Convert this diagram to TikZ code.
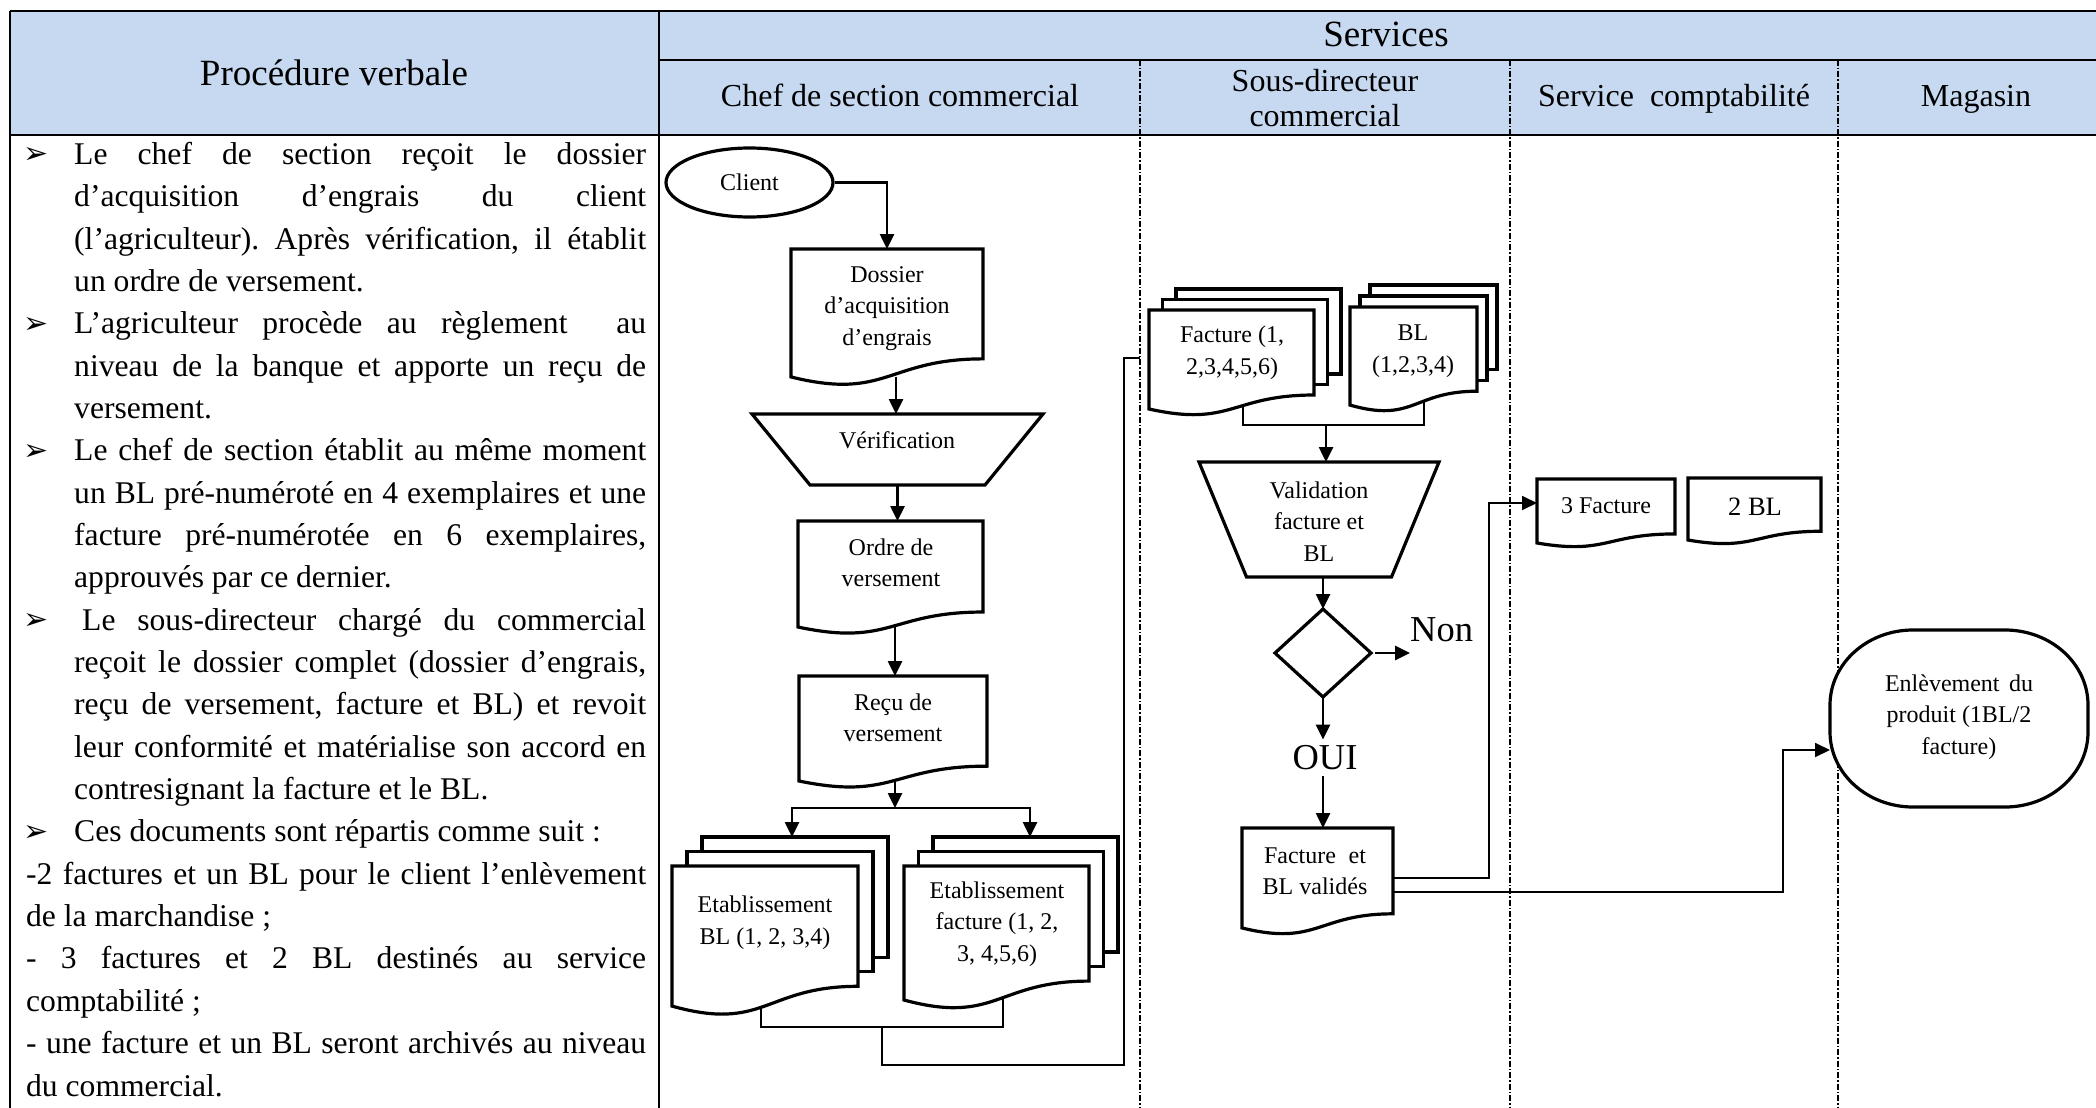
\documentclass[tikz,border=0pt]{standalone}
\usepackage{fontspec}
\setmainfont{Liberation Serif}
\newfontfamily\arrowfont{DejaVu Sans}
\usetikzlibrary{calc,shapes.geometric,arrows.meta}
\definecolor{headblue}{RGB}{198,217,241}
\frenchspacing

\tikzset{
  frame/.style={line width=2.2pt},
  lane/.style={line width=1.1pt, dash pattern=on 6pt off 2pt on 1.5pt off 2pt},
  shapeline/.style={line width=3.2pt, fill=white, line join=miter},
  box/.style={rectangle, draw=none, inner sep=0pt, outer sep=0pt},
  link/.style={line width=2.6pt, -{Triangle[length=15pt,width=14pt]}},
  route/.style={line width=1.6pt},
  routearrow/.style={line width=1.8pt, -{Triangle[length=15pt,width=14pt]}},
  flowtext/.style={font=\fontsize{24}{31.5}\selectfont, align=center, inner sep=0pt},
  headtext/.style={font=\fontsize{32}{35}\selectfont, align=center, inner sep=0pt},
  titletext/.style={font=\fontsize{37}{40}\selectfont, inner sep=0pt},
  bigtext/.style={font=\fontsize{36.5}{40}\selectfont, inner sep=0pt},
  bodytext/.style={font=\fontsize{31.6}{42.35}\selectfont, inner sep=0pt, anchor=base west},
  bulletmark/.style={font=\arrowfont\fontsize{30}{30}\selectfont, inner sep=0pt},
}

% document symbol: rectangle with a wavy lower edge
\newcommand{\docoutline}[1]{%
  \draw[shapeline] (#1.north west) -- (#1.north east)
    -- ($(#1.north east)!0.802!(#1.south east)$)
    .. controls ($(#1.north)!0.802!(#1.south)$) and ($(#1.north)!1.1075!(#1.south)$)
    .. ($(#1.north west)!0.934!(#1.south west)$) -- cycle;}
% sheets stacked behind a document symbol
\newcommand{\stackback}[3]{%
  \foreach \k in {2,1}{%
    \draw[shapeline] ($(#1.north west)+({\k*#2},{-\k*#3})$) rectangle
      ($(#1.north east)!0.802!(#1.south east)+({\k*#2},{-\k*#3})$);}}
% manual operation symbol (inverted trapezium)
\newcommand{\trapoutline}[2]{%
  \draw[shapeline] (#1.north west) -- (#1.north east)
    -- ($(#1.south east)+(-#2,0)$) -- ($(#1.south west)+(#2,0)$) -- cycle;}
% one line of the written procedure
\newcommand{\justline}[5]{\node[bodytext] (#1) at (#2,{164.3+42.35*(#3-1)}) {\hbox to #4pt{#5}};}
\newcommand{\plainline}[4]{\node[bodytext] (#1) at (#2,{164.3+42.35*(#3-1)}) {#4};}

\begin{document}
\begin{tikzpicture}[x=1pt,y=-1pt]
\useasboundingbox (0,0) rectangle (2096,1108);
\fill[white] (0,0) rectangle (2096,1108);
\clip (0,0) rectangle (2096,1108);

% ---------- table ----------
\fill[headblue] (10,11) rectangle (2096,135);
\draw[lane] (1140,60) -- (1140,1108);
\draw[lane] (1510,60) -- (1510,1108);
\draw[lane] (1838,60) -- (1838,1108);
\draw[frame] (10,11) -- (2096,11);
\draw[frame] (659,60) -- (2096,60);
\draw[frame] (10,135) -- (2096,135);
\draw[frame] (10,11) -- (10,1108);
\draw[frame] (659,11) -- (659,1108);

\node[titletext] (hproc) at (334,73) {Procédure verbale};
\node[titletext] (hserv) at (1386,34) {Services};
\node[headtext, anchor=base] (hchef) at (900,106.7) {Chef de section commercial};
\node[headtext] (hsous) at (1325,98) {Sous-directeur\\commercial};
\node[headtext, anchor=base] (hcompta) at (1674,106.7) {Service~~comptabilité};
\node[headtext, anchor=base] (hmag) at (1976,106.7) {Magasin};

% ---------- written procedure ----------
\node[bulletmark] (b1) at (36.5,{155.7+42.35*0}) {➢};
\node[bulletmark] (b2) at (36.5,{155.7+42.35*4}) {➢};
\node[bulletmark] (b3) at (36.5,{155.7+42.35*7}) {➢};
\node[bulletmark] (b4) at (36.5,{155.7+42.35*11}) {➢};
\node[bulletmark] (b5) at (36.5,{155.7+42.35*16}) {➢};

\justline{l1}{74}{1}{572}{Le chef de section reçoit le dossier}
\justline{l2}{74}{2}{572}{d’acquisition d’engrais du client}
\justline{l3}{74}{3}{572}{(l’agriculteur). Après vérification, il établit}
\plainline{l4}{74}{4}{un ordre de versement.}
\justline{l5}{74}{5}{572}{L’agriculteur procède au règlement~ au}
\justline{l6}{74}{6}{572}{niveau de la banque et apporte un reçu de}
\plainline{l7}{74}{7}{versement.}
\justline{l8}{74}{8}{572}{Le chef de section établit au même moment}
\justline{l9}{74}{9}{572}{un BL pré-numéroté en 4 exemplaires et une}
\justline{l10}{74}{10}{572}{facture pré-numérotée en 6 exemplaires,}
\plainline{l11}{74}{11}{approuvés par ce dernier.}
\justline{l12}{82}{12}{564}{Le sous-directeur chargé du commercial}
\justline{l13}{74}{13}{572}{reçoit le dossier complet (dossier d’engrais,}
\justline{l14}{74}{14}{572}{reçu de versement, facture et BL) et revoit}
\justline{l15}{74}{15}{572}{leur conformité et matérialise son accord en}
\plainline{l16}{74}{16}{contresignant la facture et le BL.}
\plainline{l17}{74}{17}{Ces documents sont répartis comme suit :}
\justline{l18}{26}{18}{620}{-2 factures et un BL pour le client l’enlèvement}
\plainline{l19}{26}{19}{de la marchandise ;}
\justline{l20}{26}{20}{620}{- 3 factures et 2 BL destinés au service}
\plainline{l21}{26}{21}{comptabilité ;}
\justline{l22}{26}{22}{620}{- une facture et un BL seront archivés au niveau}
\plainline{l23}{26}{23}{du commercial.}

% ---------- chef de section commercial ----------
\node[ellipse, draw, line width=3.2pt, fill=white, minimum width=167pt, minimum height=69pt,
      inner sep=0pt, font=\fontsize{24}{30}\selectfont] (client) at (749.5,182.5) {Client};

\node[box, minimum width=192pt, minimum height=137pt] (dossier) at (887,317.5) {};
\docoutline{dossier}
\node[flowtext] (dossiert) at (887,308.5) {Dossier\\d’acquisition\\d’engrais};

\node[box, minimum width=291pt, minimum height=71pt] (verif) at (897.5,449.5) {};
\trapoutline{verif}{58}
\node[flowtext] (verift) at (897,440) {Vérification};

\node[box, minimum width=185pt, minimum height=113.5pt] (ordre) at (890.5,577.75) {};
\docoutline{ordre}
\node[flowtext] (ordret) at (891,563) {Ordre de\\versement};

\node[box, minimum width=188pt, minimum height=112.4pt] (recu) at (893,732.2) {};
\docoutline{recu}
\node[flowtext] (recut) at (893,718) {Reçu de\\versement};

\node[box, minimum width=186pt, minimum height=150pt] (etabbl) at (765,941) {};
\stackback{etabbl}{15}{14.5}
\docoutline{etabbl}
\node[flowtext] (etabblt) at (765,922.5) {Etablissement\\BL (1, 2, 3,4)};

\node[box, minimum width=185pt, minimum height=143.5pt] (etabfa) at (996.5,937.75) {};
\stackback{etabfa}{14.5}{14.5}
\docoutline{etabfa}
\node[flowtext] (etabfat) at (997,924) {Etablissement\\facture (1, 2,\\3, 4,5,6)};

% ---------- sous-directeur commercial ----------
\node[box, minimum width=165pt, minimum height=106pt] (facsd) at (1231.5,363) {};
\stackback{facsd}{13.5}{10.5}
\docoutline{facsd}
\node[flowtext] (facsdt) at (1232,352.5) {Facture (1,\\2,3,4,5,6)};

\node[box, minimum width=127pt, minimum height=105pt] (blsd) at (1413.5,359.5) {};
\stackback{blsd}{10}{11}
\docoutline{blsd}
\node[flowtext] (blsdt) at (1413,351) {BL\\(1,2,3,4)};

\node[box, minimum width=240pt, minimum height=115pt] (valid) at (1319,519.5) {};
\trapoutline{valid}{47.5}
\node[flowtext] (validt) at (1319,521.7) {Validation\\facture et\\BL};

\node[box, minimum width=96pt, minimum height=88pt] (dia) at (1323,653) {};
\draw[shapeline] (dia.north) -- (dia.east) -- (dia.south) -- (dia.west) -- cycle;

\node[bigtext, anchor=west] (non) at (1410,630) {Non};
\node[bigtext, inner sep=6pt] (oui) at (1325,758) {OUI};

\node[box, minimum width=151pt, minimum height=107pt] (valides) at (1317.5,881.5) {};
\docoutline{valides}
\node[flowtext] (validest) at (1315,871) {\hbox to 102pt{Facture\hfill et}\\BL validés};

% ---------- service comptabilite ----------
\node[box, minimum width=138pt, minimum height=68.5pt] (fac3) at (1606,513.25) {};
\docoutline{fac3}
\node[flowtext] (fac3t) at (1606,506) {3 Facture};

\node[box, minimum width=133pt, minimum height=66.4pt] (bl2) at (1754.5,511.2) {};
\docoutline{bl2}
\node[flowtext, font=\fontsize{26.5}{30}\selectfont] (bl2t) at (1755,507) {2 BL};

% ---------- magasin ----------
\draw[shapeline] (1913,630) -- (2005,630)
  arc[start angle=-90, end angle=0, x radius=83, y radius=75] -- (2088,732)
  arc[start angle=0, end angle=90, x radius=83, y radius=75] -- (1913,807)
  arc[start angle=90, end angle=180, x radius=83, y radius=75] -- (1830,705)
  arc[start angle=180, end angle=270, x radius=83, y radius=75] -- cycle;
\node[flowtext] (enl) at (1959,717) {\hbox to 148pt{Enlèvement\hfill du}\\produit (1BL/2\\facture)};

% ---------- connection points ----------
\coordinate (d1) at (896,376.8);
\coordinate (o1) at (895,626.9);
\coordinate (r1) at (895,780.9);
\coordinate (br) at (895,808);
\coordinate (blin) at (792,837);
\coordinate (fain) at (1030,837);
\coordinate (blout) at (761,1006);
\coordinate (faout) at (1003,998.2);
\coordinate (m2) at (1003,1027);
\coordinate (m3) at (882,1027);
\coordinate (m4) at (1124,1065);
\coordinate (sdin) at (1140,358);
\coordinate (fo) at (1243,406.4);
\coordinate (bo) at (1424,402);
\coordinate (m5) at (1424,425);
\coordinate (m6) at (1326,425);
\coordinate (v1) at (1393,878);
\coordinate (v2) at (1393,892);
\coordinate (m7) at (1489,503);
\coordinate (f3in) at (1537,503);
\coordinate (m8) at (1783,750);
\coordinate (enin) at (1830,750);

% ---------- connectors ----------
\draw[link] (client.east) -| (dossier.north);
\draw[link] (d1) -- (d1 |- verif.north);
\draw[link] (verif.south) -- (verif.south |- ordre.north);
\draw[link] (o1) -- (o1 |- recu.north);
\draw[link] (r1) -- (br);
\draw[link] (br) -| (blin);
\draw[link] (br) -| (fain);
\draw[route] (blout) |- (m2) -- (faout);
\draw[route] (m3) |- (m4) |- (sdin);
\draw[route] (fo) |- (m5) -- (bo);
\draw[link] (m6) -- (m6 |- valid.north);
\draw[link] (dia.north |- valid.south) -- (dia.north);
\draw[link] ($(dia.east)+(4,0)$) -- (non.west |- dia.east);
\draw[link] (dia.south) -- (dia.south |- oui.north);
\draw[link] (dia.south |- oui.south) -- (dia.south |- valides.north);
\draw[routearrow] (v1) -| (m7) -- (f3in);
\draw[routearrow] (v2) -| (m8) -- (enin);
\end{tikzpicture}
\end{document}
